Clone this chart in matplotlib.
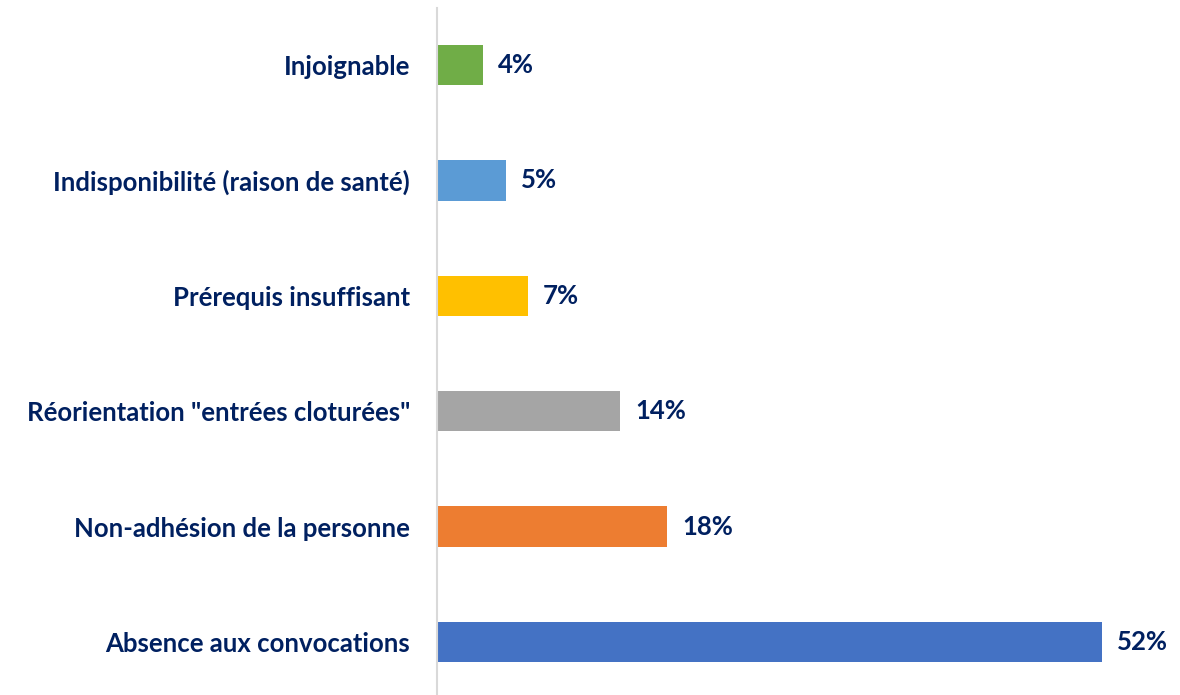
import matplotlib.pyplot as plt

# reasons, from bottom to top
categories = ["Absence aux convocations",
              "Non-adhésion de la personne",
              "Réorientation \"entrées cloturées\"",
              "Prérequis insuffisant",
              "Indisponibilité (raison de santé)",
              "Injoignable"]
values = [52.0, 18.0, 14.3, 7.1, 5.4, 3.6]
colors = ["#4472C4", "#ED7D31", "#A5A5A5", "#FFC000", "#5B9BD5", "#70AD47"]

text_color = "#002060"
plt.rcParams['font.family'] = ['Lato', 'DejaVu Sans']

fig = plt.figure(figsize=(11.8, 6.95), dpi=100)
ax = fig.add_axes([437 / 1180, 0, 743 / 1180, 687 / 695])

pos = list(range(len(categories)))
ax.barh(pos, values, height=0.35, color=colors)

# value labels next to each bar
for p, v in zip(pos, values):
    ax.text(v + 1.2, p, f"{v:.0f}%", va='center', ha='left',
            fontsize=18.5, fontweight='bold', color=text_color)

ax.set_xlim(0, 743 / 12.79)
ax.set_ylim(-0.459, 5.494)
ax.set_yticks(pos)
ax.set_yticklabels(categories, fontsize=18.5, fontweight='bold', color=text_color)
ax.tick_params(axis='y', length=0, pad=19.5)
ax.set_xticks([])

for side in ['top', 'right', 'bottom']:
    ax.spines[side].set_visible(False)
ax.spines['left'].set_color('#D9D9D9')
ax.spines['left'].set_linewidth(1.5)

fig.savefig("out.png", dpi=100)
